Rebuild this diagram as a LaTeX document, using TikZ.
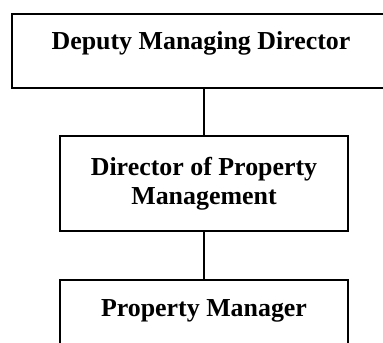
\documentclass[tikz,border=0pt]{standalone}
\usepackage{fontspec}
\setmainfont{Liberation Serif}
\begin{document}
\begin{tikzpicture}[x=1bp,y=-1bp,
  post/.style={draw, line width=2.4bp, inner xsep=0pt, inner ysep=4bp,
    font=\fontsize{26}{30}\selectfont\bfseries, align=center, anchor=north}]
\useasboundingbox (0,0) rectangle (383,343);
\node[post, minimum width=378bp, text height=31bp, text depth=35bp] (dmd) at (201,13) {Deputy Managing Director};
\node[post, minimum width=288bp, minimum height=95bp] (dpm) at (204,135) {Director of Property\\Management};
\node[post, minimum width=288bp, text height=32bp, text depth=31bp] (pm) at (204,279) {Property Manager};
\draw[line width=2.4bp] (dmd.south -| dpm.north) -- (dpm.north);
\draw[line width=1.2bp] (dpm.south) -- (pm.north);
\end{tikzpicture}
\end{document}
